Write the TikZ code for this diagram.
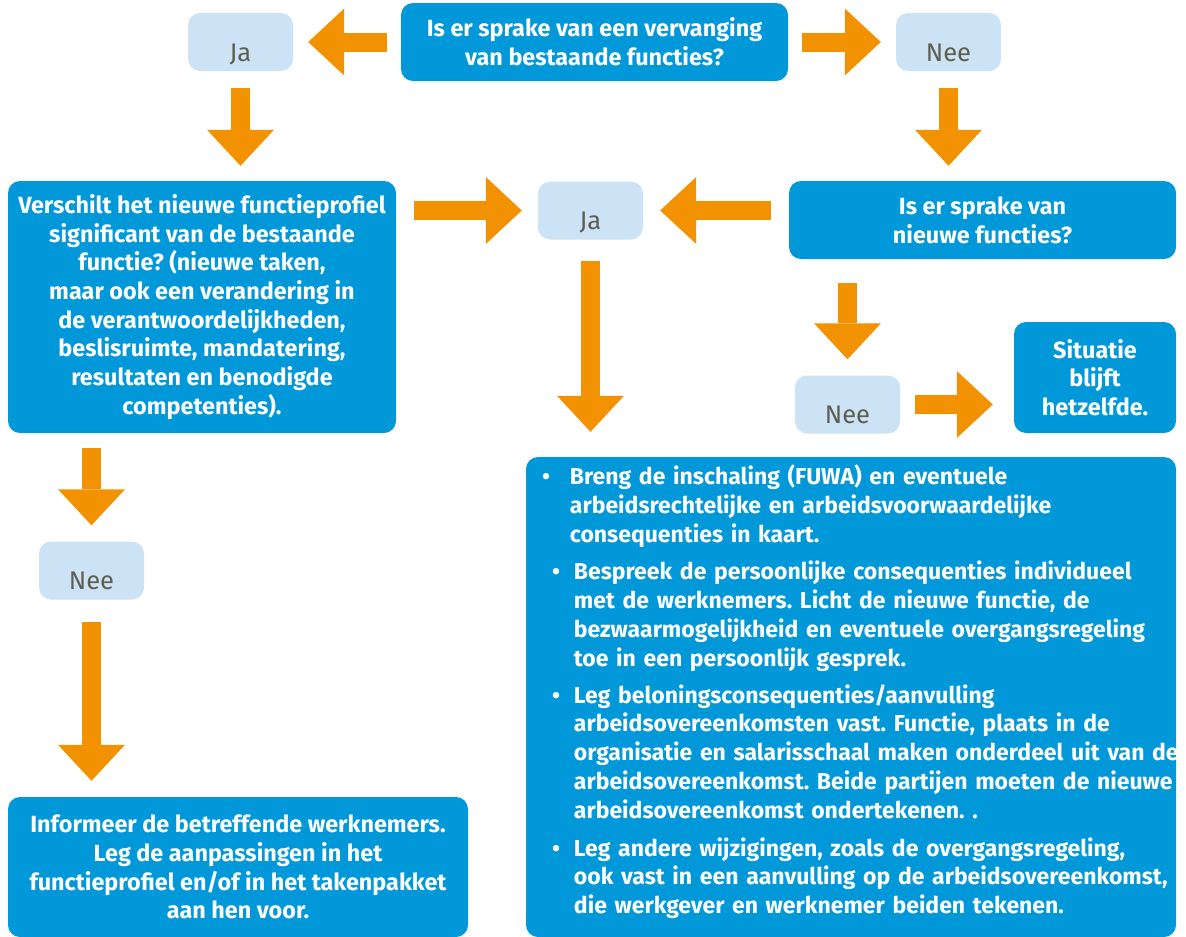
\documentclass[tikz,border=0pt]{standalone}
\usepackage{fontspec}
\setmainfont{Fira Sans}
\usetikzlibrary{arrows.meta}

\definecolor{vraagblauw}{HTML}{0098D9}
\definecolor{antwoordblauw}{HTML}{CCE3F6}
\definecolor{antwoordgrijs}{HTML}{5E5E50}
\definecolor{pijloranje}{HTML}{F29200}

\begin{document}
\frenchspacing
\begin{tikzpicture}[x=1pt, y=-1pt,
  vraag/.style={fill=vraagblauw, rounded corners=12pt, text=white, align=center, inner sep=0pt,
    font=\fontsize{23.4}{28.7}\selectfont\bfseries},
  antwoord/.style={fill=antwoordblauw, rounded corners=12pt, text=antwoordgrijs, inner sep=0pt,
    minimum width=105, minimum height=58, text height=38pt, text depth=0pt,
    font=\fontsize{25.5}{28}\selectfont},
  pijl/.style={draw=pijloranje, line width=19pt, -{Triangle[width=67pt,length=36pt,line width=0pt]}}]
\useasboundingbox[fill=white] (0,0) rectangle (1186,937);

\node[vraag, minimum width=387, minimum height=78] (vervanging) at (594.5,42) {Is er sprake van een vervanging\\van bestaande functies?};
\node[antwoord] (ja1) at (240.5,42) {Ja};
\node[antwoord] (nee1) at (948.5,42) {Nee};

\node[vraag, minimum width=388, minimum height=252] (profiel) at (202,307) {Verschilt het nieuwe functieprofiel\\significant van de bestaande\\functie? (nieuwe taken,\\maar ook een verandering in\\de verantwoordelijkheden,\\beslisruimte, mandatering,\\resultaten en benodigde\\competenties).};
\node[antwoord] (ja2) at (590.5,210.5) {Ja};
\node[vraag, minimum width=387, minimum height=78] (nieuw) at (982.5,220) {Is er sprake van\\nieuwe functies?};

\node[antwoord] (nee3) at (847.5,404.5) {Nee};
\node[vraag, minimum width=162, minimum height=111] (situatie) at (1095,377.5) {Situatie\\blijft\\hetzelfde.};
\node[antwoord] (nee2) at (91.5,570.5) {Nee};

\node[vraag, minimum width=460, minimum height=140] (informeer) at (238,867) {Informeer de betreffende werknemers.\\Leg de aanpassingen in het\\functieprofiel en/of in het takenpakket\\aan hen voor.};

\node[vraag, minimum height=480, text width=598, align=left, inner xsep=26pt,
  font=\fontsize{23}{28.7}\selectfont\bfseries] (acties) at (851,697) {%
\begin{tabular}{@{}l@{\hspace{14pt}}l@{}}
\hspace*{-10pt}• & \hspace*{-4pt}Breng de inschaling (FUWA) en eventuele\\
 & \hspace*{-4pt}arbeidsrechtelijke en arbeidsvoorwaardelijke\\
 & \hspace*{-4pt}consequenties in kaart.\\[9pt]
• & Bespreek de persoonlijke consequenties individueel\\
 & met de werknemers. Licht de nieuwe functie, de\\
 & bezwaarmogelijkheid en eventuele overgangsregeling\\
 & toe in een persoonlijk gesprek.\\[8.5pt]
• & Leg beloningsconsequenties/aanvulling\\
 & arbeidsovereenkomsten vast. Functie, plaats in de\\
 & organisatie en salarisschaal maken onderdeel uit van de\\
 & arbeidsovereenkomst. Beide partijen moeten de nieuwe\\
 & arbeidsovereenkomst ondertekenen. .\\[9.5pt]
• & Leg andere wijzigingen, zoals de overgangsregeling,\\
 & ook vast in een aanvulling op de arbeidsovereenkomst,\\
 & die werkgever en werknemer beiden tekenen.\\[7pt]
\end{tabular}};

\draw[pijl, shorten <=14pt, shorten >=15pt] (vervanging.west) -- (ja1.east);
\draw[pijl, shorten <=14pt, shorten >=15pt] (vervanging.east) -- (nee1.west);
\draw[pijl, shorten <=17pt, shorten >=15pt] (ja1.south) -- (ja1.south |- profiel.north);
\draw[pijl, shorten <=17pt, shorten >=15pt] (nee1.south) -- (nee1.south |- nieuw.north);
\draw[pijl, shorten <=18pt, shorten >=16pt] (profiel.east |- ja2.west) -- (ja2.west);
\draw[pijl, shorten <=18pt, shorten >=17pt] (nieuw.west |- ja2.east) -- (ja2.east);
\draw[pijl, shorten <=21pt, shorten >=25pt] (ja2.south) -- (ja2.south |- acties.north);
\draw[pijl, shorten <=24pt, shorten >=16pt] (nee3.north |- nieuw.south) -- (nee3.north);
\draw[pijl, shorten <=15pt, shorten >=21pt] (nee3.east) -- (nee3.east -| situatie.west);
\draw[pijl, shorten <=15pt, shorten >=16pt] (profiel.south -| nee2.north) -- (nee2.north);
\draw[pijl, shorten <=22pt, shorten >=16pt] (nee2.south) -- (nee2.south |- informeer.north);
\end{tikzpicture}
\end{document}
